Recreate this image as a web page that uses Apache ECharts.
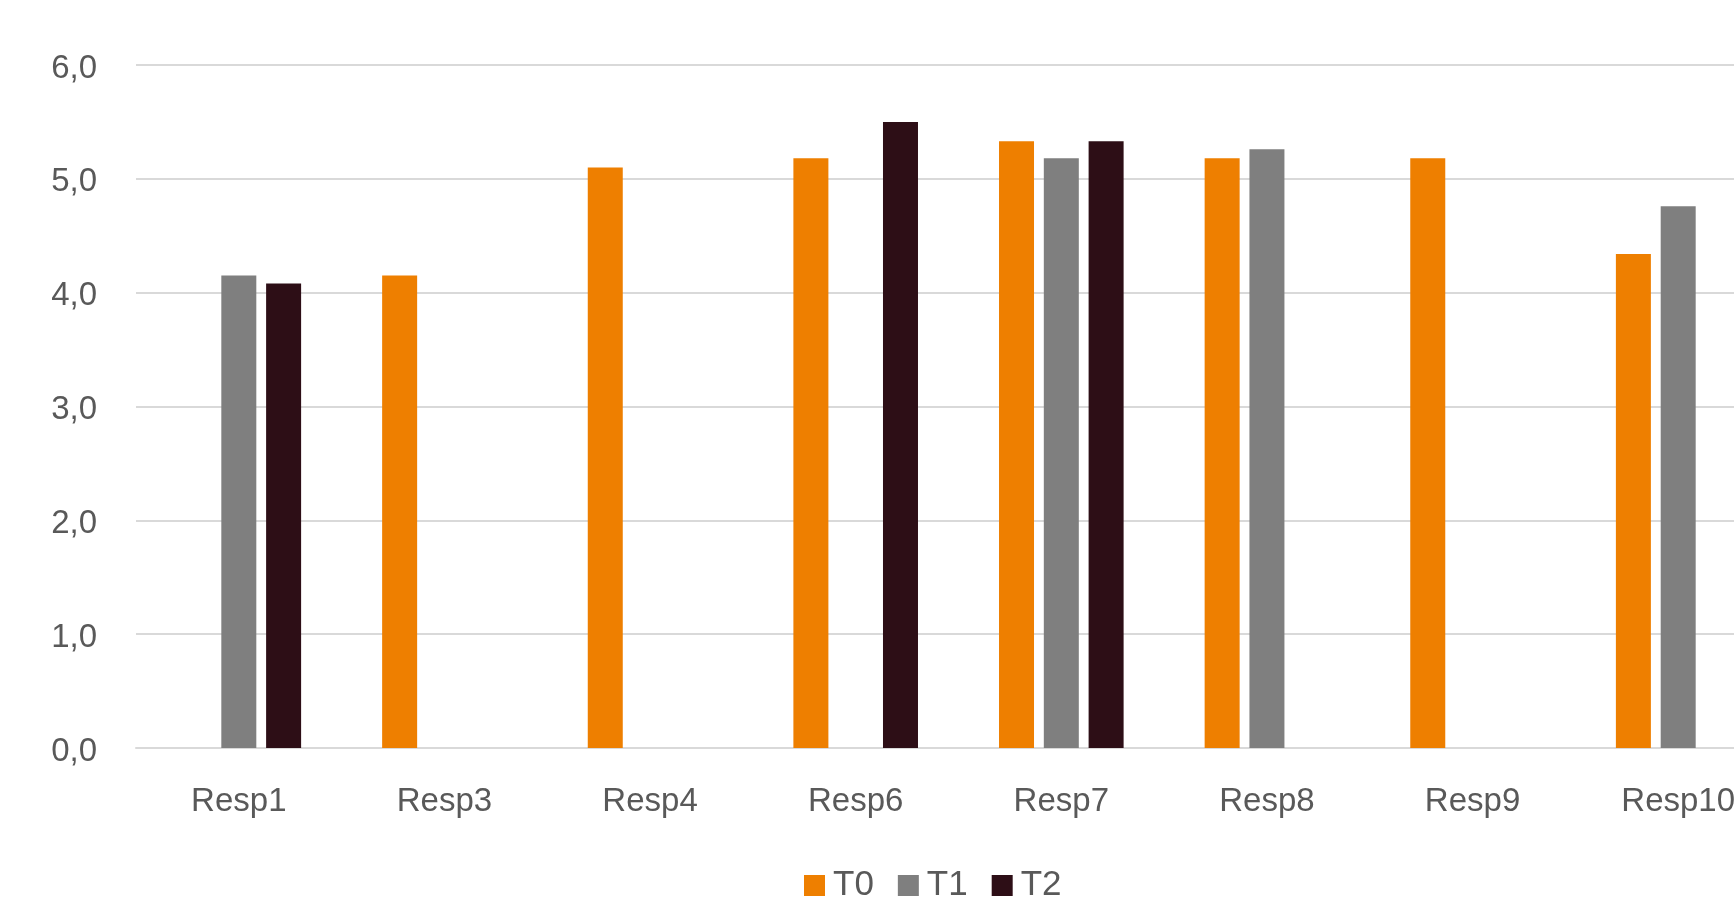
<!DOCTYPE html>
<html>
<head>
<meta charset="utf-8">
<script src="https://cdn.jsdelivr.net/npm/echarts@6/dist/echarts.min.js"></script>
<style>
  html, body { margin: 0; padding: 0; background: #fff; }
  #main { width: 1734px; height: 899px; }
</style>
</head>
<body>
<div id="main"></div>
<script>
  // categorias e valores (null = sem barra)
  var categorias = ['Resp1', 'Resp3', 'Resp4', 'Resp6', 'Resp7', 'Resp8', 'Resp9', 'Resp10'];
  var serieT0 = [null, 4.15, 5.1, 5.18, 5.33, 5.18, 5.18, 4.34];
  var serieT1 = [4.15, null, null, null, 5.18, 5.26, null, 4.76];
  var serieT2 = [4.08, null, null, 5.5, 5.33, null, null, null];
  var nomes = ['T0', 'T1', 'T2'];
  var cores = ['#EE7F00', '#7F7F7F', '#2D0E16'];

  var myChart = echarts.init(document.getElementById('main'));
  var fonte = 'Liberation Sans';

  myChart.setOption({
    animation: false,
    color: cores,
    textStyle: { fontFamily: fonte },
    legend: {
      data: nomes,
      left: 804,
      top: 868,
      padding: 0,
      itemWidth: 21,
      itemHeight: 21,
      itemGap: 24,
      icon: 'rect',
      textStyle: { fontSize: 35, color: '#595959', fontFamily: fonte, padding: [0, 0, 0, 3] }
    },
    grid: {
      left: 136,
      top: 65,
      bottom: 151,
      width: 1645,
      containLabel: false,
      outerBoundsMode: 'none'
    },
    xAxis: {
      type: 'category',
      data: categorias,
      axisLine: { lineStyle: { color: '#D9D9D9', width: 2 } },
      axisTick: { show: false },
      axisLabel: { fontSize: 33, color: '#595959', margin: 37, fontFamily: fonte }
    },
    yAxis: {
      type: 'value',
      min: 0,
      max: 6,
      interval: 1,
      axisLine: { show: false },
      axisTick: { show: false },
      splitLine: { lineStyle: { color: '#D9D9D9', width: 2 } },
      axisLabel: {
        fontSize: 33,
        color: '#595959',
        margin: 39,
        fontFamily: fonte,
        verticalAlign: 'top',
        padding: [-13, 0, 0, 0],
        formatter: function (v) { return v.toFixed(1).replace('.', ','); }
      }
    },
    series: [
      { name: 'T0', type: 'bar', data: serieT0, barWidth: 35, barGap: '28%' },
      { name: 'T1', type: 'bar', data: serieT1, barWidth: 35, barGap: '28%' },
      { name: 'T2', type: 'bar', data: serieT2, barWidth: 35, barGap: '28%' }
    ]
  });
</script>
</body>
</html>
